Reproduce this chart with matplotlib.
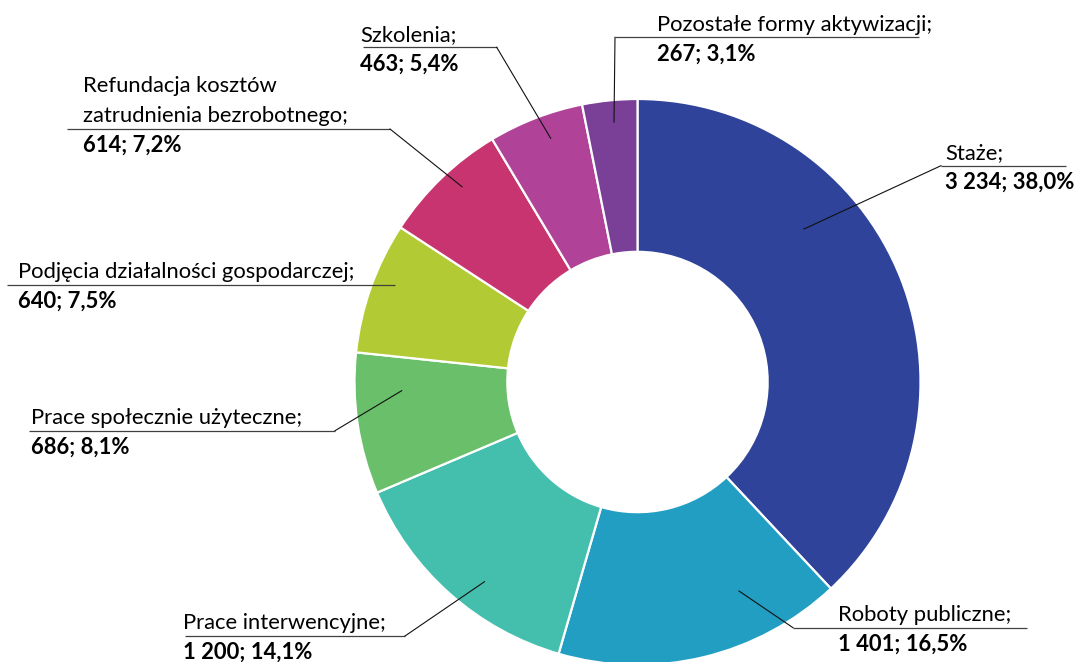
import matplotlib
matplotlib.use('Agg')
import matplotlib.pyplot as plt

# dane
categories = ['Staże', 'Roboty publiczne', 'Prace interwencyjne',
              'Prace społecznie użyteczne', 'Podjęcia działalności gospodarczej',
              'Refundacja kosztów\nzatrudnienia bezrobotnego',
              'Szkolenia', 'Pozostałe formy aktywizacji']
values = [3234, 1401, 1200, 686, 640, 614, 463, 267]
colors = ['#2E4399', '#229EC2', '#45BFAD', '#6ABF6A',
          '#B2CB34', '#C8346F', '#B04398', '#7A3F97']

# polozenie etykiet w pikselach (od lewego gornego rogu):
# x tekstu, y podkreslenia, poczatek i koniec podkreslenia, punkt w wycinku
label_layout = [
    (945, 165.7, 941, 1066, (804, 229)),
    (838, 627.7, 793, 1027, (739, 591)),
    (183, 636.0, 185, 405, (484.5, 581.7)),
    (30.7, 430.7, 29, 335, (401.7, 390.7)),
    (18, 285, 7, 395, None),
    (82.7, 129, 66.7, 390, (462, 186.7)),
    (360, 47.3, 362.7, 496.7, (550.7, 138.3)),
    (657, 37.3, 615, 919, (614, 122)),
]

W, H = 1075, 662
plt.rcParams['font.family'] = ['Lato', 'DejaVu Sans']
fig = plt.figure(figsize=(W / 100, H / 100), dpi=100)
ax = fig.add_axes([0, 0, 1, 1])

R = 283
cx, cy = 637.5, H - 382
ax.pie(values, colors=colors, startangle=90, counterclock=False,
       center=(cx, cy), radius=R,
       wedgeprops=dict(width=R * 0.54, edgecolor='white', linewidth=1.6))
ax.set_xlim(0, W)
ax.set_ylim(0, H)
ax.set_aspect('equal')
ax.axis('off')

total = sum(values)
fs = 15.8
for name, v, (tx, uy, x0, x1, pt) in zip(categories, values, label_layout):
    lines = name.split('\n')
    lines[-1] = lines[-1] + ';'
    for k, line in enumerate(reversed(lines)):
        ax.text(tx, H - (uy - 6.6 - 30 * k), line, fontsize=fs,
                ha='left', va='baseline', color='black')
    num = f'{v:,}'.replace(',', ' ')
    pct = f'{v / total * 100:.1f}'.replace('.', ',')
    ax.text(tx, H - (uy + 23.0), f'{num}; {pct}%', fontsize=fs,
            fontweight='bold', ha='left', va='baseline', color='black')
    ax.plot([x0, x1], [H - uy, H - uy], color='#404040', lw=0.9,
            solid_capstyle='butt')
    if pt is not None:
        # lewa strona wykresu -> linia od prawego konca podkreslenia
        sx = x1 if tx < cx else x0
        ax.plot([sx, pt[0]], [H - uy, H - pt[1]], color='#111111', lw=0.8)

fig.savefig('out.png', dpi=100)
